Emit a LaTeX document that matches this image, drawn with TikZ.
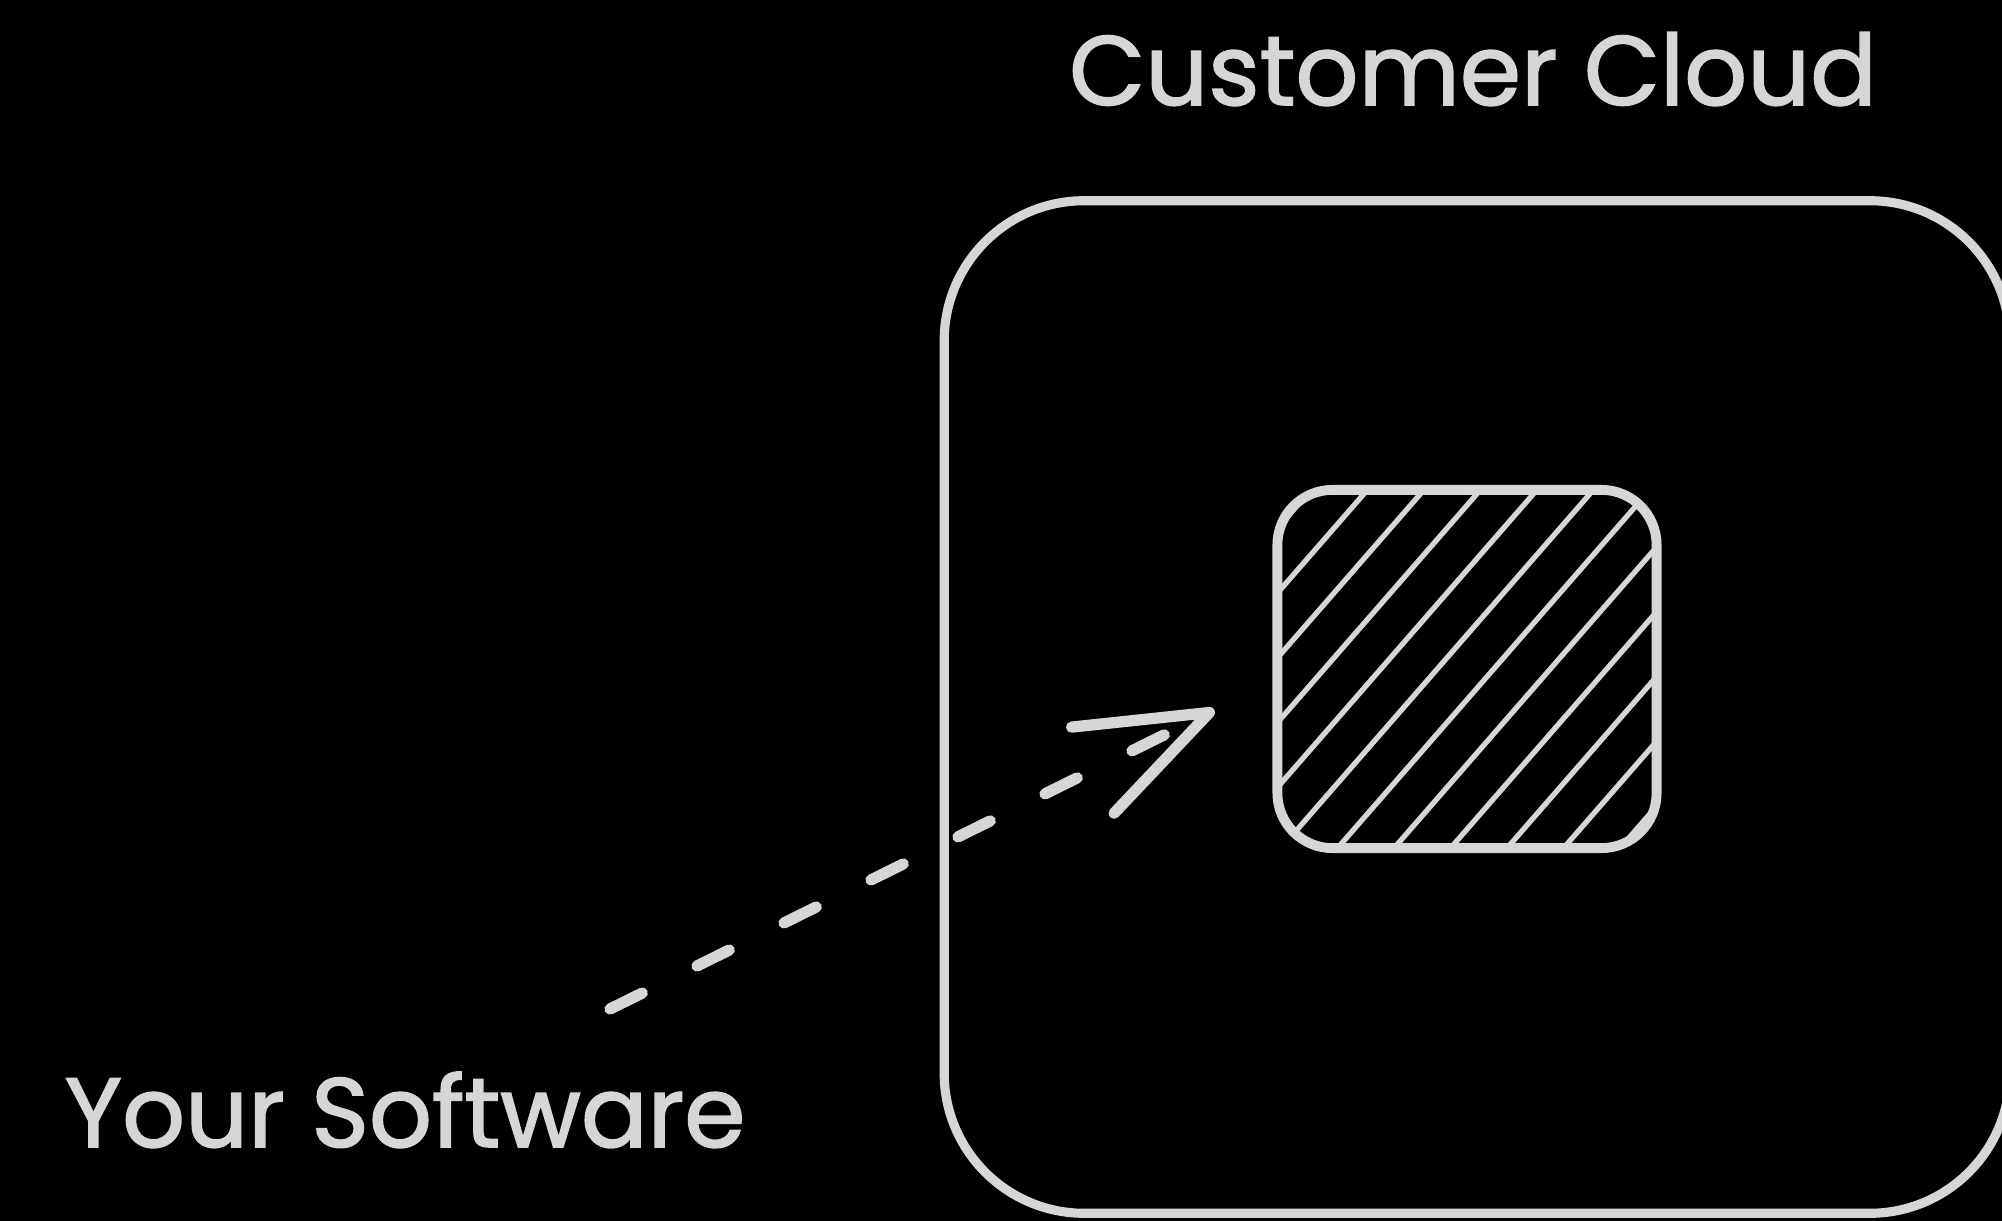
\documentclass[tikz,border=0pt]{standalone}
\usepackage{fontspec}
\setmainfont{Poppins}[FakeBold=1.6]
\usepackage{tikz}
\usetikzlibrary{arrows.meta,positioning,calc}
\definecolor{chalk}{HTML}{D6D6D6}
\definecolor{board}{HTML}{000000}

\begin{document}
\begin{tikzpicture}[x=0.01cm,y=-0.01cm,
  every node/.style={font=\fontsize{28}{33}\selectfont, text=chalk},
  region/.style={draw=chalk, line width=2.6pt, rounded corners=1.4cm, inner sep=0pt,
    minimum width=10.65cm, minimum height=10.12cm},
  hatched/.style={draw=chalk, line width=2.8pt, rounded corners=0.55cm, inner sep=0pt,
    minimum width=3.79cm, minimum height=3.58cm,
    path picture={
      \foreach \k in {-2,...,12}
        \draw[chalk, line width=1.5pt]
          ($(path picture bounding box.north west)+(90+56.5*\k+0.872*30,-30)$) -- ++(-0.872*450,450);
    }},
  link/.style={chalk, line width=3.2pt, line cap=round, dash pattern=on 0.36cm off 0.61cm,
    -{Straight Barb[length=1.3cm,width=0.96cm,round]}}]
\path[use as bounding box, fill=board] (0,0) rectangle (2002,1221);
\clip (0,0) rectangle (2002,1221);

% customer side
\node[region] (cloud) at (1477,707) {};
\node[hatched] (vault) at (1467,669) {};
\node[anchor=base] (cloudlbl) at (1473,105) {Customer Cloud};

% vendor side
\node[anchor=base] (sw) at (405,1147) {Your Software};
\coordinate (out) at (610,1009);
\coordinate (in) at ($(vault.west)+(-58,41)$);
\draw[link] (out) -- (in);
\end{tikzpicture}
\end{document}
